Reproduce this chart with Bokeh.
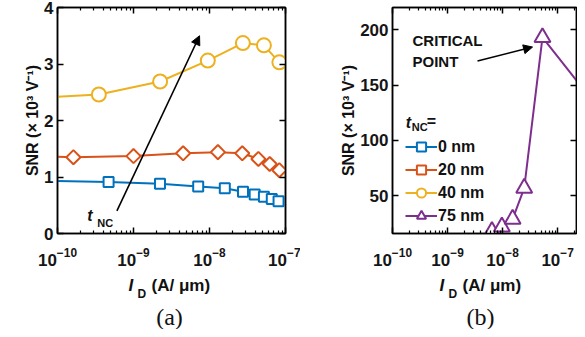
import math
from bokeh.plotting import figure
from bokeh.layouts import row, column
from bokeh.models import (Range1d, LogAxis, LinearAxis, FixedTicker, Label, Arrow,
                          NormalHead, Legend, LegendItem, Title)
from bokeh.embed import file_html
from bokeh.resources import INLINE

# ---------------- data ----------------
X_TICKS = [1e-10, 1e-9, 1e-8, 1e-7]
YA_TICKS = [0, 1, 2, 3, 4]
YB_TICKS = [50, 100, 150, 200]
SERIES_NAMES = ["0 nm", "20 nm", "40 nm", "75 nm"]
Y_LABEL = "SNR (\u00d7 10\u00b3 V\u207b\u00b9)"

# t_NC = 0 nm
X0 = [4.7e-10, 2.23e-9, 7.1e-9, 1.59e-8, 2.76e-8, 3.93e-8, 5.2e-8, 6.6e-8, 8.1e-8]
Y0 = [0.91, 0.88, 0.83, 0.80, 0.74, 0.69, 0.65, 0.61, 0.57]
X0_START, Y0_START = 1e-10, 0.93
# t_NC = 20 nm
X20 = [1.62e-10, 1.0e-9, 4.5e-9, 1.29e-8, 2.7e-8, 4.4e-8, 6.2e-8, 8.3e-8]
Y20 = [1.35, 1.37, 1.42, 1.44, 1.42, 1.32, 1.23, 1.12]
X20_START, Y20_START = 1e-10, 1.36
# t_NC = 40 nm
X40 = [3.5e-10, 2.24e-9, 9.5e-9, 2.75e-8, 5.2e-8, 8.3e-8]
Y40 = [2.46, 2.69, 3.06, 3.37, 3.33, 3.03]
X40_START, Y40_START = 1e-10, 2.42
# t_NC = 75 nm
X75 = [6.4e-9, 9.7e-9, 1.52e-8, 2.47e-8, 5.3e-8, 3.2e-7]
Y75 = [18, 22, 29, 57, 193, 144]

# annotation arrows (x_start, y_start, x_end, y_end)
ARROW_A = (6.05e-10, 0.40, 7.4e-9, 3.50)
ARROW_B = (3.5e-9, 171.7, 3.5e-8, 184.3)

COLORS = ["#0072BD", "#D95319", "#EDB120", "#7E2F8E"]
FONT = "Liberation Sans"
ROW1_H = 273
ROW2_H = 56

X_MINOR = [m * 10.0 ** k for k in range(-10, -6) for m in range(2, 10)]


def style_axis(ax, labels=True):
    ax.axis_line_color = "black"
    ax.axis_line_width = 1.5
    ax.major_tick_in = 6
    ax.major_tick_out = 0
    ax.minor_tick_in = 3
    ax.minor_tick_out = 0
    ax.major_tick_line_color = "black"
    ax.minor_tick_line_color = "black"
    ax.major_tick_line_width = 1.5
    ax.minor_tick_line_width = 1.2
    ax.major_label_text_font = FONT
    ax.major_label_text_font_style = "bold"
    ax.major_label_text_color = "#151515"
    ax.major_label_text_font_size = "17px"
    if not labels:
        ax.major_label_text_alpha = 0.0
        ax.major_label_text_font_size = "2px"
        ax.major_label_standoff = 0


def lab(p, x, y, text, size, style="bold", align="left", font=FONT):
    """label in frame-relative screen units (x right, y up)"""
    p.add_layout(Label(x=x, y=y, x_units="screen", y_units="screen", text=text,
                       text_font=font, text_font_size=f"{size}px", text_font_style=style,
                       text_align=align, text_baseline="middle",
                       text_color="#111111"))


def text_fig(width, height):
    f = figure(width=width, height=height, x_range=Range1d(0, 1), y_range=Range1d(0, 1),
               x_axis_location=None, y_axis_location=None, toolbar_location=None,
               output_backend="svg", min_border=0)
    f.outline_line_color = None
    f.grid.visible = False
    return f


def make_fig(x_end, y_rng, yticks, width, bl, br):
    p = figure(width=width, height=ROW1_H, x_axis_type="log",
               x_range=Range1d(1e-10, x_end), y_range=Range1d(*y_rng),
               output_backend="svg", toolbar_location=None,
               min_border_left=bl, min_border_right=br, min_border_top=7,
               min_border_bottom=ROW1_H - 7 - 226)
    p.xgrid.visible = False
    p.ygrid.visible = False
    p.outline_line_color = "black"
    p.outline_line_width = 1.5
    xt = FixedTicker(ticks=X_TICKS, minor_ticks=X_MINOR)
    yt = FixedTicker(ticks=yticks, minor_ticks=[])
    bx = p.below[0]
    bx.ticker = xt
    style_axis(bx)
    bx.major_label_standoff = 14
    ly = p.left[0]
    ly.ticker = yt
    style_axis(ly)
    ly.major_label_standoff = 4
    top = LogAxis(ticker=xt)
    style_axis(top, labels=False)
    p.add_layout(top, "above")
    right = LinearAxis(ticker=yt)
    style_axis(right, labels=False)
    p.add_layout(right, "right")
    p.add_layout(Title(text=Y_LABEL, align="center", offset=-12, standoff=2,
                       text_font=FONT, text_font_size="16px", text_font_style="bold",
                       text_color="#111111"), "left")

    rends = []
    series = [
        ([X0_START] + X0, [Y0_START] + Y0, X0, Y0, dict(marker="square", size=10, angle=0.0)),
        ([X20_START] + X20, [Y20_START] + Y20, X20, Y20, dict(marker="square", size=10, angle=math.pi / 4)),
        ([X40_START] + X40, [Y40_START] + Y40, X40, Y40, dict(marker="circle", size=14, angle=0.0)),
        (X75, Y75, X75, Y75, dict(marker="triangle", size=16, angle=0.0)),
    ]
    for (lx, ly_, mx, my, mk), c in zip(series, COLORS):
        l = p.line(lx, ly_, line_color=c, line_width=2)
        s = p.scatter(mx, my, line_color=c, fill_color="white", line_width=2, **mk)
        rends.append((l, s))
    return p, rends


def xlabel(f, x):
    H = ROW1_H + ROW2_H
    lab(f, x, H - 285, "I", 17, style="bold italic")
    lab(f, x + 9, H - 293, "D", 12)
    lab(f, x + 23, H - 285, "(A/ \u03bcm)", 17)


# ---------------- panel (a) ----------------
pa, ra = make_fig(1e-7, (0, 4), YA_TICKS, 300, 57, 15)
lab(pa, 29.7, 18, "t", 16, style="bold italic")
lab(pa, 39.7, 10.5, "NC", 11)
pa.add_layout(Arrow(x_start=ARROW_A[0], y_start=ARROW_A[1], x_end=ARROW_A[2], y_end=ARROW_A[3],
                    line_color="black", line_width=1.6,
                    end=NormalHead(size=9, fill_color="black", line_color="black", line_width=1)))

# ---------------- panel (b) ----------------
pb, rb = make_fig(2.2e-7, (16, 220), YB_TICKS, 277, 92, 1)
lab(pb, 20, 193.5, "CRITICAL", 15)
lab(pb, 20, 172, "POINT", 15)
pb.add_layout(Arrow(x_start=ARROW_B[0], y_start=ARROW_B[1], x_end=ARROW_B[2], y_end=ARROW_B[3],
                    line_color="black", line_width=1.6,
                    end=NormalHead(size=9, fill_color="black", line_color="black", line_width=1)))
lab(pb, 13.3, 111, "t", 16, style="bold italic")
lab(pb, 19.3, 106.5, "NC", 11)
lab(pb, 34.3, 112, "=", 16)

legend = Legend(items=[LegendItem(label=n, renderers=list(r)) for n, r in zip(SERIES_NAMES, rb)],
                location=(13, 6), glyph_width=32, glyph_height=23, spacing=0,
                label_standoff=1, padding=0, margin=0, label_height=20,
                border_line_alpha=0, background_fill_alpha=0,
                label_text_font=FONT, label_text_font_size="16px",
                label_text_font_style="bold", label_text_color="#111111")
pb.add_layout(legend)

# ---------------- bottom strip: x labels and panel tags ----------------
xl = text_fig(577, ROW2_H)
xlabel(xl, 128)
xlabel(xl, 439)
lab(xl, 169, ROW1_H + ROW2_H - 316, "(a)", 24, style="normal", align="center", font="Liberation Serif")
lab(xl, 480, ROW1_H + ROW2_H - 316, "(b)", 24, style="normal", align="center", font="Liberation Serif")

layout = column(row(pa, pb, spacing=0), xl, spacing=0)
open("out.html", "w").write(file_html(layout, INLINE))
